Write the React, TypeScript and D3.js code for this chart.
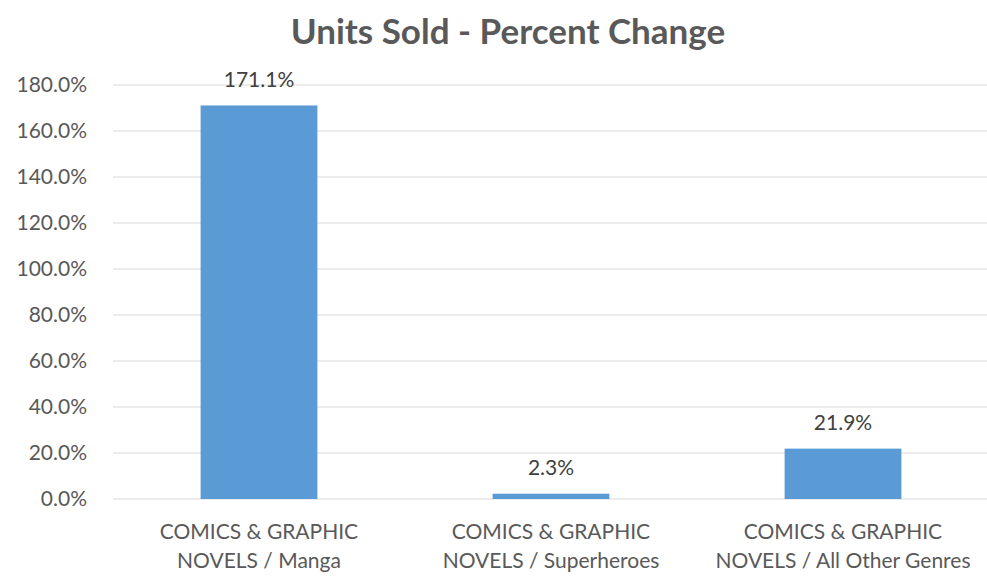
import React from "react";
import * as d3 from "d3";

const categoriesLine1 = ["COMICS & GRAPHIC", "COMICS & GRAPHIC", "COMICS & GRAPHIC"];
const categoriesLine2 = ["NOVELS / Manga", "NOVELS / Superheroes", "NOVELS / All Other Genres"];
const values = [171.1, 2.3, 21.9];
const yTicks = [0, 20, 40, 60, 80, 100, 120, 140, 160, 180];
const title = "Units Sold - Percent Change";

const W = 987;
const H = 576;
const FONT = "Lato, 'Open Sans', sans-serif";

export default function App() {
  const keys = values.map((_, i) => String(i));
  const x = d3.scaleBand<string>().domain(keys).range([113, 989]).paddingInner(0.6).paddingOuter(0.3);
  const y = d3.scaleLinear().domain([0, 180]).range([499, 85]);
  const fmt = (v: number) => v.toFixed(1) + "%";

  return (
    <svg width={W} height={H} style={{ position: "absolute", left: 0, top: 0, background: "#fff" }}>
      <rect x={0} y={0} width={W} height={H} fill="#fff" />
      <text x={508} y={44} textAnchor="middle" fontFamily={FONT} fontWeight={700} fontSize={35} fill="#595959">
        {title}
      </text>
      {yTicks.map((t) => (
        <g key={t}>
          <line x1={113} x2={987} y1={y(t)} y2={y(t)} stroke="#d9d9d9" strokeWidth={1.2} />
          <text x={87} y={y(t)} dy="0.35em" textAnchor="end" fontFamily={FONT} fontSize={21} fill="#595959">
            {fmt(t)}
          </text>
        </g>
      ))}
      {values.map((v, i) => {
        const bx = x(String(i))!;
        const bw = x.bandwidth();
        const cx = bx + bw / 2;
        return (
          <g key={i}>
            <rect x={bx} y={y(v)} width={bw} height={y(0) - y(v)} fill="#5B9BD5" />
            <text x={cx} y={y(v) - 26} dy="0.35em" textAnchor="middle" fontFamily={FONT} fontSize={21} fill="#404040">
              {fmt(v)}
            </text>
            <text x={cx} y={532} dy="0.35em" textAnchor="middle" fontFamily={FONT} fontSize={21} fill="#595959">
              {categoriesLine1[i]}
            </text>
            <text x={cx} y={561} dy="0.35em" textAnchor="middle" fontFamily={FONT} fontSize={21} fill="#595959">
              {categoriesLine2[i]}
            </text>
          </g>
        );
      })}
    </svg>
  );
}
